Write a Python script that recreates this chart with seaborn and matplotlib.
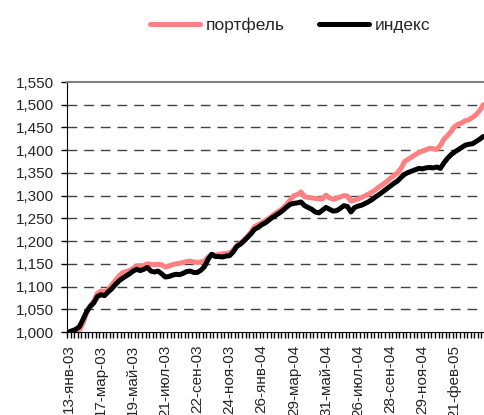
import pandas as pd
import seaborn as sns
import matplotlib.pyplot as plt
import numpy as np

# weekly values, starting 13-jan-03 (both series rebased to 1000)
portfolio = [1000, 1000, 1001, 1004, 1020, 1042, 1058, 1068, 1085, 1090,
             1088, 1093, 1103, 1113, 1123, 1130, 1133, 1135, 1140, 1145,
             1146, 1146, 1150, 1149, 1148, 1149, 1148, 1143, 1145, 1148,
             1150, 1151, 1153, 1155, 1156, 1154, 1153, 1154, 1156, 1165,
             1170, 1169, 1171, 1172, 1173, 1174, 1180, 1190, 1195, 1202,
             1210, 1220, 1232, 1236, 1240, 1245, 1250, 1256, 1262, 1267,
             1273, 1281, 1291, 1300, 1302, 1308, 1298, 1296, 1295, 1294,
             1293, 1293, 1301, 1295, 1292, 1294, 1297, 1300, 1299, 1288,
             1290, 1293, 1296, 1300, 1304, 1308, 1314, 1320, 1325, 1331,
             1338, 1344, 1350, 1360, 1375, 1380, 1385, 1390, 1395, 1398,
             1401, 1404, 1403, 1402, 1410, 1424, 1432, 1441, 1452, 1457,
             1460, 1465, 1467, 1472, 1478, 1487, 1500]
index = [1000, 1003, 1006, 1012, 1028, 1045, 1056, 1064, 1078, 1082,
         1080, 1088, 1095, 1104, 1112, 1118, 1123, 1128, 1134, 1138,
         1135, 1138, 1142, 1134, 1132, 1134, 1128, 1121, 1122, 1125,
         1127, 1126, 1129, 1133, 1134, 1131, 1131, 1136, 1144, 1160,
         1171, 1166, 1166, 1165, 1167, 1168, 1176, 1188, 1193, 1200,
         1208, 1216, 1226, 1230, 1236, 1240, 1246, 1252, 1257, 1262,
         1268, 1275, 1281, 1283, 1284, 1286, 1278, 1274, 1270, 1264,
         1262, 1268, 1274, 1270, 1266, 1267, 1272, 1278, 1276, 1264,
         1274, 1277, 1279, 1283, 1287, 1292, 1298, 1303, 1309, 1315,
         1321, 1327, 1332, 1340, 1347, 1351, 1354, 1357, 1360, 1359,
         1361, 1362, 1361, 1363, 1360, 1372, 1382, 1390, 1396, 1401,
         1406, 1411, 1413, 1414, 1419, 1424, 1430]

tick_labels = ['13-янв-03', '17-мар-03', '19-май-03', '21-июл-03', '22-сен-03',
               '24-ноя-03', '26-янв-04', '29-мар-04', '31-май-04', '26-июл-04',
               '28-сен-04', '29-ноя-04', '21-фев-05']
y_ticks = [1000, 1050, 1100, 1150, 1200, 1250, 1300, 1350, 1400, 1450, 1500, 1550]

weeks = np.arange(len(index))
df = pd.DataFrame({'week': np.concatenate([weeks, weeks]),
                   'value': portfolio + index,
                   'series': ['портфель'] * len(portfolio) + ['индекс'] * len(index)})

sns.set_style("ticks")
plt.rcParams['font.family'] = ['Liberation Sans', 'DejaVu Sans']

fig = plt.figure(figsize=(4.84, 4.15), dpi=100)
ax = fig.add_axes([67 / 484, 0.2, 1 - 67 / 484 + 0.002, 0.6024])

# dashed grid first so the lines sit on top
for v in y_ticks[1:-1]:
    ax.axhline(v, color='#404040', lw=1, ls=(0, (7, 5)), zorder=1)

sns.lineplot(data=df, x='week', y='value', hue='series',
             palette={'портфель': '#FF8080', 'индекс': 'black'},
             linewidth=3.6, ax=ax, legend=False, zorder=3)

ax.set_xlim(-0.5, len(index) - 0.5)
ax.set_ylim(1000, 1550)
ax.set_yticks(y_ticks)
ax.set_yticklabels([f'{v:,}' for v in y_ticks], fontsize=11)
ax.set_xticks(np.arange(0, 9 * len(tick_labels), 9))
ax.set_xticklabels(tick_labels, rotation=90, fontsize=11)
ax.set_xticks(np.arange(-0.5, len(index), 1), minor=True)
ax.tick_params(axis='x', which='major', length=0, pad=9)
ax.tick_params(axis='x', which='minor', length=4, width=1, color='black')
ax.tick_params(axis='y', length=4.5, width=1, color='black', pad=5)
ax.set_xlabel('')
ax.set_ylabel('')

ax.spines['right'].set_visible(False)
ax.spines['top'].set_color('#808080')
ax.spines['top'].set_linewidth(1.5)
ax.spines['left'].set_color('black')
ax.spines['bottom'].set_color('black')

handles = [plt.Line2D([], [], color='#FF8080', lw=3.6, solid_capstyle='round'),
           plt.Line2D([], [], color='black', lw=3.6, solid_capstyle='round')]
fig.legend(handles, ['портфель', 'индекс'], loc='center', ncol=2,
           bbox_to_anchor=(290 / 484, 1 - 25 / 415), frameon=False,
           fontsize=12.5, handlelength=2.9, handletextpad=0.3, columnspacing=2.0)

fig.savefig('out.png', dpi=100)
